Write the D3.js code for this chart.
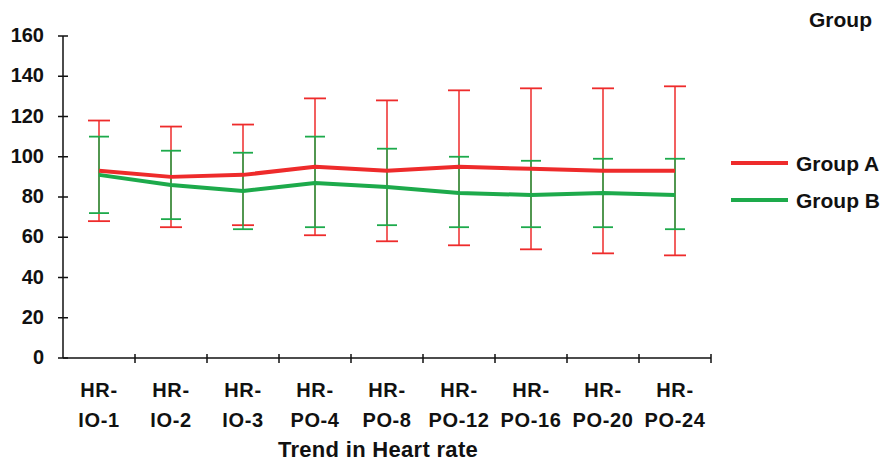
<!DOCTYPE html>
<html>
<head>
<meta charset="utf-8">
<script src="https://cdn.jsdelivr.net/npm/d3@7"></script>
<style>
  body { margin: 0; background: #fff; }
  svg text { font-family: "Liberation Sans", Arial, sans-serif; font-weight: bold; fill: #111; }
</style>
</head>
<body>
<svg id="chart" width="886" height="463"></svg>
<script>
  const categories = ["HR-IO-1", "HR-IO-2", "HR-IO-3", "HR-PO-4", "HR-PO-8", "HR-PO-12", "HR-PO-16", "HR-PO-20", "HR-PO-24"];
  const groupA = [93, 90, 91, 95, 93, 95, 94, 93, 93];
  const groupAHigh = [118, 115, 116, 129, 128, 133, 134, 134, 135];
  const groupALow = [68, 65, 66, 61, 58, 56, 54, 52, 51];
  const groupB = [91, 86, 83, 87, 85, 82, 81, 82, 81];
  const groupBHigh = [110, 103, 102, 110, 104, 100, 98, 99, 99];
  const groupBLow = [72, 69, 64, 65, 66, 65, 65, 65, 64];
  const yTicks = [0, 20, 40, 60, 80, 100, 120, 140, 160];

  const svg = d3.select("#chart");
  const margin = { left: 63, top: 36, right: 175, bottom: 105 };
  const w = 886, h = 463;

  const x = d3.scaleBand().domain(categories).range([margin.left, 711]);
  const y = d3.scaleLinear().domain([0, 160]).range([h - margin.bottom, margin.top]);

  const series = [
    { name: "Group A", color: "#ee2b2b", mean: groupA, hi: groupAHigh, lo: groupALow, cap: 11 },
    { name: "Group B", color: "#1daa4b", mean: groupB, hi: groupBHigh, lo: groupBLow, cap: 10 },
  ];

  // y axis
  const yAxis = svg.append("g").attr("transform", `translate(${margin.left},0)`);
  yAxis.append("line").attr("y1", y(0)).attr("y2", y(160)).attr("stroke", "#111").attr("stroke-width", 1.5);
  yAxis.selectAll(".tk").data(yTicks).join("line")
    .attr("x1", -5).attr("x2", 5)
    .attr("y1", (d) => y(d)).attr("y2", (d) => y(d))
    .attr("stroke", "#111").attr("stroke-width", 1.5);
  yAxis.selectAll("text").data(yTicks).join("text")
    .attr("x", -19).attr("y", (d) => y(d))
    .attr("dy", "0.3em").attr("text-anchor", "end")
    .style("font-size", "20px")
    .text((d) => d);

  // x axis
  const xAxis = svg.append("g").attr("transform", `translate(0,${y(0)})`);
  xAxis.append("line").attr("x1", margin.left).attr("x2", 711).attr("stroke", "#111").attr("stroke-width", 1.5);
  const bounds = categories.map((c) => x(c) + x.bandwidth());
  xAxis.selectAll(".tk").data(bounds).join("line")
    .attr("x1", (d) => d).attr("x2", (d) => d)
    .attr("y1", -4).attr("y2", 5)
    .attr("stroke", "#111").attr("stroke-width", 1.5);
  const lbl = xAxis.selectAll(".lbl").data(categories).join("text")
    .attr("text-anchor", "middle")
    .style("font-size", "20px")
    .style("letter-spacing", "0.6px");
  lbl.append("tspan").attr("x", (d) => x(d) + x.bandwidth() / 2).attr("y", 39).text("HR-");
  lbl.append("tspan").attr("x", (d) => x(d) + x.bandwidth() / 2).attr("y", 69).text((d) => d.slice(3));

  svg.append("text")
    .attr("x", 378).attr("y", 457)
    .attr("text-anchor", "middle")
    .style("font-size", "22px")
    .style("letter-spacing", "0.3px")
    .text("Trend in Heart rate");

  // error bars and lines
  const cx = (i) => x(categories[i]) + x.bandwidth() / 2;
  series.forEach((s) => {
    const g = svg.append("g");
    g.selectAll(".v").data(s.mean).join("line")
      .attr("x1", (d, i) => cx(i)).attr("x2", (d, i) => cx(i))
      .attr("y1", (d, i) => y(s.hi[i])).attr("y2", (d, i) => y(s.lo[i]))
      .attr("stroke", s.color).attr("stroke-width", 1.5);
    ["hi", "lo"].forEach((k) => {
      g.selectAll(".c" + k).data(s[k]).join("line")
        .attr("x1", (d, i) => cx(i) - s.cap).attr("x2", (d, i) => cx(i) + s.cap)
        .attr("y1", (d) => y(d)).attr("y2", (d) => y(d))
        .attr("stroke", s.color).attr("stroke-width", 1.8);
    });
  });

  const line = d3.line().x((d, i) => cx(i)).y((d) => y(d));
  series.slice().reverse().forEach((s) => {
    svg.append("path").datum(s.mean)
      .attr("d", line).attr("fill", "none")
      .attr("stroke", s.color).attr("stroke-width", 4)
      .attr("stroke-linejoin", "round");
  });

  // legend
  const leg = svg.append("g");
  leg.append("text").attr("x", 872).attr("y", 27).attr("text-anchor", "end")
    .style("font-size", "21px").text("Group");
  series.forEach((s, i) => {
    const ly = 163 + i * 37;
    leg.append("line").attr("x1", 731).attr("x2", 788).attr("y1", ly).attr("y2", ly)
      .attr("stroke", s.color).attr("stroke-width", 4);
    leg.append("text").attr("x", 796).attr("y", ly).attr("dy", "0.36em")
      .style("font-size", "21px").text(s.name);
  });
</script>
</body>
</html>
